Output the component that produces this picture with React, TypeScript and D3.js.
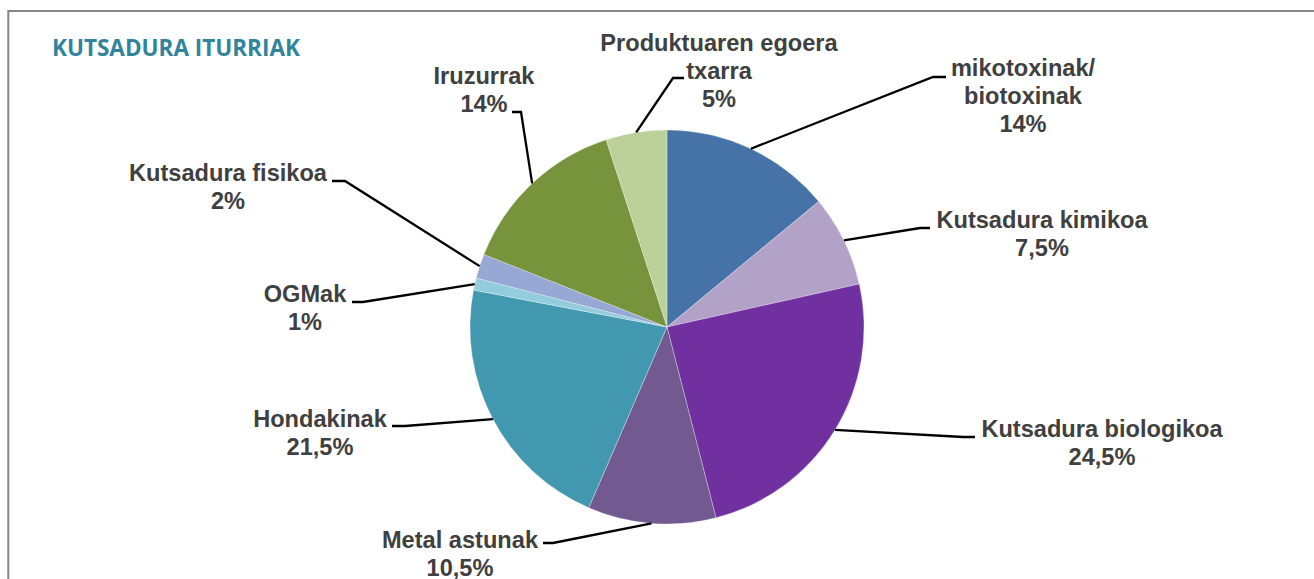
import * as d3 from "d3";

const categories = [
  "mikotoxinak/\nbiotoxinak",
  "Kutsadura kimikoa",
  "Kutsadura biologikoa",
  "Metal astunak",
  "Hondakinak",
  "OGMak",
  "Kutsadura fisikoa",
  "Iruzurrak",
  "Produktuaren egoera\ntxarra",
];
const values = [14, 7.5, 24.5, 10.5, 21.5, 1, 2, 14, 5];
const colors = [
  "#4573A7",
  "#B3A2C7",
  "#7030A0",
  "#72598F",
  "#4198AF",
  "#93CDDD",
  "#97A8D4",
  "#77933C",
  "#BCD09A",
];

// label layout: text centre, first baseline, leader elbow and tail next to the text
const labelLayout = [
  { x: 1023, y: 76, ex: 933, ey: 77, tx: 946 },
  { x: 1042, y: 228, ex: 920, ey: 228, tx: 930 },
  { x: 1102, y: 437, ex: 963, ey: 437, tx: 975 },
  { x: 460, y: 548, ex: 553, ey: 543, tx: 543 },
  { x: 320, y: 427, ex: 405, ey: 426, tx: 392 },
  { x: 305, y: 302, ex: 363, ey: 302, tx: 352 },
  { x: 228, y: 181, ex: 345, ey: 181, tx: 332 },
  { x: 484, y: 84, ex: 521, ey: 112, tx: 512 },
  { x: 719, y: 51, ex: 673, ey: 78, tx: 684 },
];

const width = 1314;
const height = 579;
const cx = 667;
const cy = 327;
const radius = 197;
const lineHeight = 28;

const fmt = (v: number) => String(v).replace(".", ",") + "%";

export default function App() {
  const pie = d3
    .pie<number>()
    .sort(null)
    .value((d) => d)
    .startAngle(0)
    .endAngle(2 * Math.PI);
  const arcs = pie(values);
  const arc = d3.arc<d3.PieArcDatum<number>>().innerRadius(0).outerRadius(radius);

  return (
    <svg
      width={width}
      height={height}
      style={{ position: "absolute", left: 0, top: 0, background: "#fff" }}
    >
      <rect x={8.3} y={11} width={1400} height={700} fill="#fff" stroke="#878787" strokeWidth={2} />
      <text
        x={52}
        y={56}
        fontFamily="'Open Sans', sans-serif"
        fontWeight="bold"
        fontSize={22.5}
        fill="#31849B"
      >
        KUTSADURA ITURRIAK
      </text>
      <g transform={`translate(${cx},${cy})`}>
        {arcs.map((a, i) => (
          <path key={i} d={arc(a) || ""} fill={colors[i]} stroke="#fff" strokeWidth={0.3} />
        ))}
      </g>
      {arcs.map((a, i) => {
        const mid = (a.startAngle + a.endAngle) / 2;
        const px = cx + radius * Math.sin(mid);
        const py = cy - radius * Math.cos(mid);
        const l = labelLayout[i];
        const pts: [number, number][] = [
          [px, py],
          [l.ex, l.ey],
          [l.tx, l.ey],
        ];
        return (
          <path
            key={"l" + i}
            d={d3.line()(pts) || ""}
            fill="none"
            stroke="#000"
            strokeWidth={2.3}
          />
        );
      })}
      {categories.map((c, i) => {
        const l = labelLayout[i];
        const lines = [...c.split("\n"), fmt(values[i])];
        return (
          <text
            key={"t" + i}
            x={l.x}
            y={l.y}
            textAnchor="middle"
            fontFamily="'Liberation Sans', Arial, sans-serif"
            fontWeight="bold"
            fontSize={23.6}
            fill="#404040"
          >
            {lines.map((s, j) => (
              <tspan key={j} x={l.x} dy={j === 0 ? 0 : lineHeight}>
                {s}
              </tspan>
            ))}
          </text>
        );
      })}
    </svg>
  );
}
